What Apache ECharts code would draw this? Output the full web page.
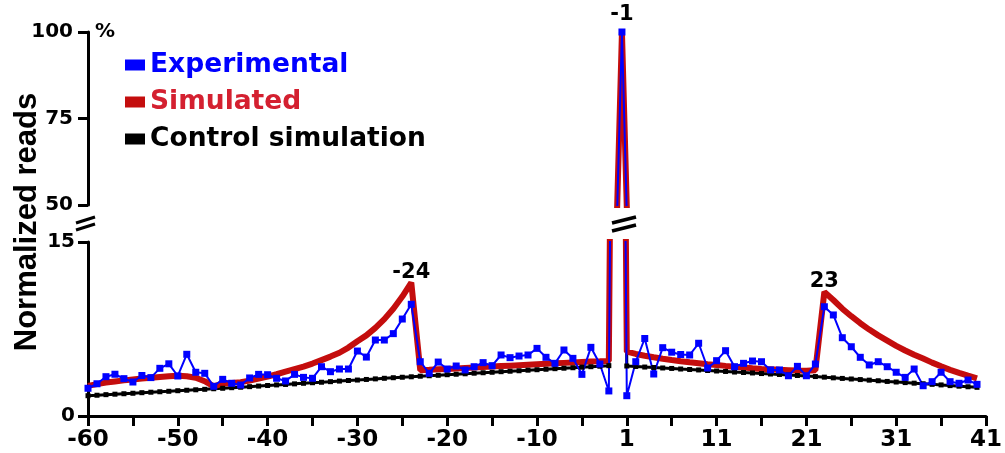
<!DOCTYPE html>
<html>
<head>
<meta charset="utf-8">
<script src="https://cdn.jsdelivr.net/npm/echarts@6/dist/echarts.min.js"></script>
<style>
html, body { margin: 0; padding: 0; background: #fff; }
#chart { width: 1005px; height: 453px; }
</style>
</head>
<body>
<div id="chart"></div>
<script>
// positions (no 0 on this axis: -1 is followed by 1)
var positions = [
  -60,-59,-58,-57,-56,-55,-54,-53,-52,-51,-50,-49,-48,-47,-46,-45,-44,-43,-42,-41,
  -40,-39,-38,-37,-36,-35,-34,-33,-32,-31,-30,-29,-28,-27,-26,-25,-24,-23,-22,-21,
  -20,-19,-18,-17,-16,-15,-14,-13,-12,-11,-10,-9,-8,-7,-6,-5,-4,-3,-2,-1,
  1,2,3,4,5,6,7,8,9,10,11,12,13,14,15,16,17,18,19,20,
  21,22,23,24,25,26,27,28,29,30,31,32,33,34,35,36,37,38,39,40,41
];

var experimental = [
  2.39,2.78,3.39,3.60,3.22,2.93,3.49,3.31,4.11,4.50,3.45,5.32,3.77,3.68,2.56,3.16,2.82,2.67,3.28,3.59,
  3.56,3.25,3.02,3.59,3.33,3.25,4.25,3.82,4.05,4.05,5.60,5.08,6.55,6.55,7.10,8.36,9.63,4.68,3.68,4.65,
  4.05,4.31,3.97,4.25,4.60,4.34,5.26,5.03,5.17,5.26,5.83,5.06,4.54,5.69,4.97,3.59,5.92,4.48,2.16,100,
  1.75,4.68,6.68,3.62,5.89,5.50,5.30,5.26,6.27,4.14,4.77,5.63,4.25,4.54,4.74,4.68,3.97,3.97,3.47,4.28,
  3.47,4.48,9.42,8.71,6.75,5.97,5.06,4.40,4.68,4.25,3.77,3.33,4.05,2.61,2.96,3.77,2.96,2.82,3.10,2.73,null
];

var simulated = [
  2.60,2.75,2.88,2.98,3.07,3.15,3.23,3.30,3.36,3.42,3.46,3.42,3.30,3.00,2.55,2.80,2.85,2.92,3.05,3.22,
  3.40,3.60,3.82,4.04,4.26,4.52,4.82,5.12,5.45,5.90,6.45,6.95,7.60,8.35,9.25,10.30,11.50,3.95,3.98,4.02,
  4.06,4.10,4.14,4.18,4.22,4.26,4.30,4.34,4.38,4.42,4.46,4.50,4.54,4.58,4.62,4.66,4.70,4.72,4.75,100,
  5.55,5.35,5.20,5.06,4.93,4.82,4.72,4.63,4.55,4.47,4.40,4.32,4.25,4.18,4.11,4.06,4.02,3.98,3.95,3.92,
  3.90,3.95,10.70,10.00,9.25,8.60,8.00,7.45,6.95,6.50,6.05,5.65,5.28,4.95,4.60,4.28,3.98,3.72,3.48,3.25,null
];

var control = [
  1.75,1.79,1.84,1.88,1.92,1.96,2.01,2.05,2.09,2.13,2.18,2.22,2.26,2.30,2.35,2.39,2.44,2.48,2.53,2.58,
  2.63,2.68,2.72,2.77,2.82,2.87,2.91,2.96,3.01,3.06,3.10,3.15,3.20,3.25,3.30,3.34,3.38,3.43,3.47,3.51,
  3.56,3.60,3.64,3.69,3.73,3.77,3.82,3.86,3.90,3.95,3.99,4.03,4.08,4.12,4.16,4.21,4.25,4.29,4.34,100,
  4.31,4.27,4.22,4.18,4.14,4.10,4.05,4.01,3.97,3.92,3.88,3.84,3.79,3.75,3.71,3.66,3.62,3.58,3.53,3.49,
  3.45,3.40,3.35,3.29,3.24,3.19,3.14,3.09,3.04,2.98,2.93,2.88,2.83,2.78,2.73,2.68,2.62,2.57,2.52,2.47,null
];

// labelled peaks (indices into positions)
var lowerPeaks = [36, 82];
var upperPeaks = [59];

// broken y axis: upper and lower part [min, max, interval]
var upperRange = [50, 100, 25];
var lowerRange = [0, 15, 15];

var BOLD = '"DejaVu Sans", sans-serif';
var RED = '#c40d0d';
var BLUE = '#0000ff';

var chart = echarts.init(document.getElementById('chart'));

function simData(peaks, dist) {
  return simulated.map(function (v, i) {
    if (peaks.indexOf(i) < 0) return v;
    return {
      value: v,
      symbol: 'circle',
      symbolSize: 1,
      label: {
        show: true, position: 'top', distance: dist,
        formatter: String(positions[i]),
        color: '#000', fontFamily: BOLD, fontWeight: 'bold', fontSize: 21, lineHeight: 21
      }
    };
  });
}

function seriesFor(g, peaks, dist) {
  return [
    {
      name: 'Control simulation', type: 'line', xAxisIndex: g, yAxisIndex: g,
      data: control, color: '#000',
      symbol: 'rect', symbolSize: 5, showSymbol: true, showAllSymbol: true,
      lineStyle: { width: 3, color: '#000' }, itemStyle: { color: '#000' }
    },
    {
      name: 'Simulated', type: 'line', xAxisIndex: g, yAxisIndex: g,
      data: simData(peaks, dist), color: RED,
      symbol: 'none', showAllSymbol: true,
      lineStyle: { width: 6, color: RED }, itemStyle: { color: RED }
    },
    {
      name: 'Experimental', type: 'line', xAxisIndex: g, yAxisIndex: g,
      data: experimental, color: BLUE,
      symbol: 'rect', symbolSize: 7, showSymbol: true, showAllSymbol: true,
      lineStyle: { width: 2, color: BLUE }, itemStyle: { color: BLUE }
    }
  ];
}

var axisLine = { show: true, lineStyle: { color: '#000', width: 3 } };
var tickLabel = { color: '#000', fontFamily: BOLD, fontWeight: 'bold', fontSize: 20 };

var option = {
  animation: false,
  backgroundColor: '#fff',
  grid: [
    { left: 88, right: 12, top: 32, height: 173 },
    { left: 88, right: 12, top: 242, height: 174 }
  ],
  xAxis: [
    { type: 'category', gridIndex: 0, data: positions, boundaryGap: false, show: false },
    {
      type: 'category', gridIndex: 1, data: positions, boundaryGap: false,
      axisLine: axisLine,
      axisTick: { show: true, interval: 4, length: 10, lineStyle: { color: '#000', width: 3 } },
      axisLabel: Object.assign({ interval: 9, margin: 13 }, tickLabel, { fontSize: 23 }),
      splitLine: { show: false }
    }
  ],
  yAxis: [
    {
      type: 'value', gridIndex: 0, min: upperRange[0], max: upperRange[1], interval: upperRange[2],
      axisLine: axisLine,
      axisTick: { show: true, length: 10, lineStyle: { color: '#000', width: 3 } },
      axisLabel: Object.assign({ margin: 15 }, tickLabel),
      splitLine: { show: false }
    },
    {
      type: 'value', gridIndex: 1, min: lowerRange[0], max: lowerRange[1], interval: lowerRange[2],
      axisLine: axisLine,
      axisTick: { show: true, length: 10, lineStyle: { color: '#000', width: 3 } },
      axisLabel: Object.assign({ margin: 13 }, tickLabel),
      splitLine: { show: false }
    }
  ],
  legend: {
    orient: 'vertical', left: 120, top: 45,
    icon: 'rect', itemWidth: 20, itemHeight: 11, itemGap: 7,
    textStyle: { fontFamily: BOLD, fontWeight: 'bold', fontSize: 26.5, lineHeight: 30 },
    data: [
      { name: 'Experimental', textStyle: { color: BLUE } },
      { name: 'Simulated', textStyle: { color: '#d42030' } },
      { name: 'Control simulation', textStyle: { color: '#000' } }
    ]
  },
  graphic: [
    {
      type: 'text', x: 27, y: 222, rotation: Math.PI / 2,
      style: { text: 'Normalized reads', font: 'bold 31px "Liberation Sans", Arial, sans-serif', fill: '#000', align: 'center', verticalAlign: 'middle' }
    },
    {
      type: 'text', x: 95, y: 22,
      style: { text: '%', font: 'bold 20px "DejaVu Sans", sans-serif', fill: '#000' }
    },
    { type: 'line', shape: { x1: 76, y1: 223, x2: 95, y2: 217 }, style: { stroke: '#000', lineWidth: 3 } },
    { type: 'line', shape: { x1: 76, y1: 230, x2: 95, y2: 224 }, style: { stroke: '#000', lineWidth: 3 } },
    { type: 'line', shape: { x1: 612, y1: 223, x2: 636, y2: 217 }, style: { stroke: '#000', lineWidth: 3.5 } },
    { type: 'line', shape: { x1: 612, y1: 231, x2: 636, y2: 225 }, style: { stroke: '#000', lineWidth: 3.5 } }
  ],
  series: seriesFor(0, upperPeaks, 6).concat(seriesFor(1, lowerPeaks, -1))
};

chart.setOption(option);
</script>
</body>
</html>
